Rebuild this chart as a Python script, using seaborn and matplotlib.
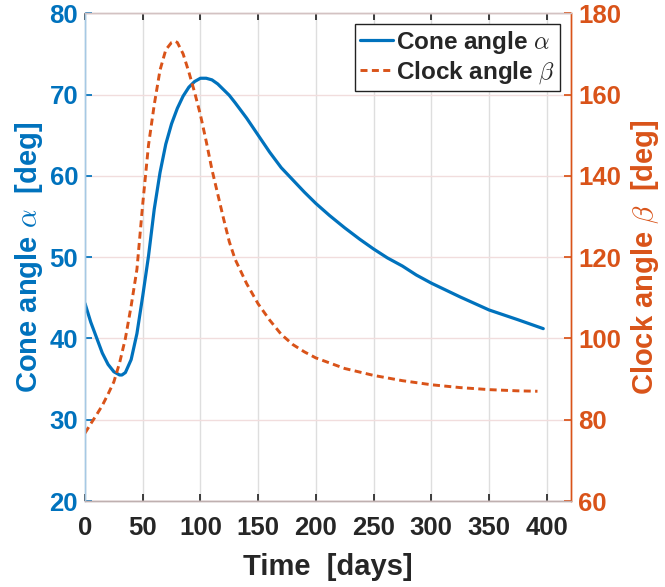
import numpy as np
import pandas as pd
import matplotlib
matplotlib.use("Agg")
import matplotlib.pyplot as plt
import seaborn as sns

# values
cone_days = [0, 5, 10, 15, 20, 25, 30, 32, 35, 40, 45, 50, 55, 60, 65, 70, 75,
             80, 85, 90, 95, 100, 105, 110, 115, 120, 125, 130, 140, 150, 160,
             170, 180, 190, 200, 212, 225, 238, 250, 262, 275, 287, 300, 325,
             350, 375, 397]
cone_angle = [44.3, 42.0, 40.1, 38.2, 36.8, 35.9, 35.5, 35.5, 35.8, 37.4, 40.6,
              45.2, 50.1, 55.9, 60.4, 63.9, 66.4, 68.3, 69.8, 70.9, 71.6, 72.0,
              72.0, 71.8, 71.3, 70.6, 69.9, 69.0, 67.1, 65.0, 62.9, 61.0, 59.5,
              58.0, 56.6, 55.1, 53.6, 52.2, 51.0, 49.9, 48.9, 47.8, 46.8, 45.1,
              43.5, 42.3, 41.2]

clock_days = [0, 5, 10, 15, 20, 25, 30, 35, 40, 45, 50, 55, 60, 65, 70, 75, 78,
              80, 85, 90, 95, 100, 105, 110, 115, 120, 125, 130, 140, 150, 160,
              170, 180, 190, 200, 225, 250, 275, 300, 325, 350, 375, 392]
clock_angle = [76.7, 79.0, 81.2, 83.5, 86.3, 89.3, 94.0, 100.0, 108.0, 117.0,
               133.0, 147.5, 157.5, 166.0, 171.0, 172.8, 173.1, 172.8, 170.0,
               165.5, 160.5, 155.0, 148.5, 141.5, 135.5, 129.5, 123.8, 119.5,
               113.5, 108.5, 104.5, 101.0, 98.5, 96.7, 95.2, 92.6, 90.9, 89.6,
               88.6, 87.9, 87.4, 87.1, 87.0]

x_ticks = [0, 50, 100, 150, 200, 250, 300, 350, 400]
left_ticks = [20, 30, 40, 50, 60, 70, 80]
right_ticks = [60, 80, 100, 120, 140, 160, 180]

blue = "#0072BD"
orange = "#D95319"

sns.set_theme(style="white")
plt.rcParams["font.family"] = ["Liberation Sans", "DejaVu Sans"]
plt.rcParams["font.weight"] = "bold"
plt.rcParams["mathtext.fontset"] = "cm"

cone_df = pd.DataFrame({"t": cone_days, "a": cone_angle})
clock_df = pd.DataFrame({"t": clock_days, "b": clock_angle})

fig = plt.figure(figsize=(6.65, 5.87), dpi=100)
ax = fig.add_axes([0.1278, 0.1465, 0.7308, 0.831])
ax2 = ax.twinx()

sns.lineplot(data=cone_df, x="t", y="a", ax=ax, color=blue, linewidth=2.3,
             label=r"Cone angle $\alpha$", legend=False)
sns.lineplot(data=clock_df, x="t", y="b", ax=ax2, color=orange, linewidth=2.1,
             linestyle=(0, (2.4, 1.5)), label=r"Clock angle $\beta$",
             legend=False)

ax.set_xlim(0, 421)
ax.set_ylim(20, 80)
ax2.set_ylim(60, 180)
ax.set_xticks(x_ticks)
ax.set_yticks(left_ticks)
ax2.set_yticks(right_ticks)

# grid
ax.grid(axis="x", color="#dedede", linewidth=1.0)
ax.grid(axis="y", color="#f1dddd", linewidth=1.0)
ax.set_axisbelow(True)

fs = 18.5
ax.tick_params(axis="x", labelsize=fs, colors="#262626", direction="in",
               length=5, top=True, bottom=True, pad=11)
ax.tick_params(axis="y", labelsize=fs, colors=blue, direction="in", length=5,
               left=True, pad=5)
ax2.tick_params(axis="y", labelsize=fs, colors=orange, direction="in",
                length=5, right=True, pad=5)
for lab in ax.get_xticklabels() + ax.get_yticklabels() + ax2.get_yticklabels():
    lab.set_fontweight("bold")

for a in (ax, ax2):
    a.spines["top"].set_color("#d3c2c2")
    a.spines["bottom"].set_color("#bfb0b0")
    a.spines["left"].set_color("#a6c9e4")
    a.spines["right"].set_color(orange)
    for s in a.spines.values():
        s.set_linewidth(1.0)

lfs = 21
ax.set_xlabel("Time  [days]", fontsize=lfs, fontweight="bold", color="#262626",
              labelpad=9)
ax.set_ylabel(r"Cone angle $\alpha$  [deg]", fontsize=lfs, fontweight="bold",
              color=blue, labelpad=3)
ax2.set_ylabel(r"Clock angle $\beta$  [deg]", fontsize=lfs, fontweight="bold",
               color=orange, labelpad=6)

handles = ax.get_lines()[:1] + ax2.get_lines()[:1]
leg = ax2.legend(handles, [h.get_label() for h in handles], loc="upper right",
                 bbox_to_anchor=(0.977, 0.978), fontsize=17.5, frameon=True,
                 fancybox=False, edgecolor="#222222", framealpha=1,
                 handlelength=1.36, handletextpad=0.1, borderpad=0.2,
                 labelspacing=0.15, borderaxespad=0)
leg.get_frame().set_linewidth(1.0)
for t in leg.get_texts():
    t.set_fontweight("bold")

fig.savefig("out.png", dpi=100)
